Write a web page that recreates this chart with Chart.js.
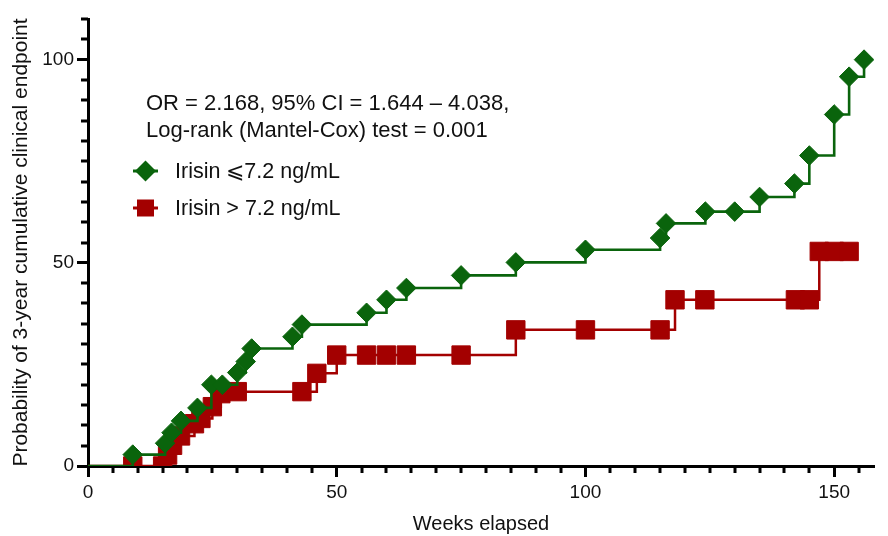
<!DOCTYPE html>
<html>
<head>
<meta charset="utf-8">
<script src="https://cdn.jsdelivr.net/npm/chart.js@4.4.1/dist/chart.umd.min.js"></script>
<style>
  html, body { margin: 0; padding: 0; background: #fff; overflow: hidden; }
  #wrap { width: 888px; height: 536px; position: relative; }
</style>
</head>
<body>
<div id="wrap"><canvas id="chart"></canvas></div>
<script>
// Irisin <= 7.2 ng/mL (weeks, cumulative %)
const lowWeeks = [0, 9, 15.5, 16.8, 18.7, 22, 24.8, 27, 30, 31.7, 32.9, 41.1, 43, 56, 60, 64, 75, 86, 100, 115, 116.2, 124.1, 130, 135, 142, 145, 150, 153, 156];
const lowPct   = [0, 2.8, 5.6, 8.2, 11.1, 14.3, 20.0, 20.0, 23.0, 25.7, 28.9, 31.8, 34.8, 37.7, 40.9, 43.8, 46.9, 50.1, 53.2, 56.1, 59.7, 62.6, 62.6, 66.2, 69.5, 76.4, 86.5, 95.8, 100];

// Irisin > 7.2 ng/mL
const highWeeks = [0, 9, 15, 16, 17, 18.6, 21.4, 22.7, 25, 26.7, 30, 43, 46, 50, 56, 60, 64, 75, 86, 100, 115, 118, 124, 142.2, 145, 147, 150, 153];
const highPct   = [0, 0, 0, 2.7, 5.1, 7.4, 10.4, 11.7, 14.6, 17.8, 18.3, 18.3, 22.8, 27.3, 27.3, 27.3, 27.3, 27.3, 33.5, 33.5, 33.5, 40.9, 40.9, 40.9, 40.9, 52.8, 52.8, 52.8];

const labels = ["Irisin \u2A7D7.2 ng/mL", "Irisin > 7.2 ng/mL"];
const noteLines = ["OR = 2.168, 95% CI = 1.644 \u2013 4.038,", "Log-rank (Mantel-Cox) test = 0.001"];

const GREEN = "#0a640c";
const RED = "#a30000";
const FONT = "'Liberation Sans', Arial, sans-serif";

function toPoints(xs, ys){
  return xs.map((x, i) => ({x: x, y: ys[i]}));
}

// short minor ticks every 5 units, long ones drawn by chart.js at multiples of 50
const minorTicks = {
  id: "minorTicks",
  afterDraw(chart){
    const ctx = chart.ctx;
    const xs = chart.scales.x, ys = chart.scales.y;
    const area = chart.chartArea;
    ctx.save();
    ctx.strokeStyle = "#000";
    ctx.lineWidth = 3;
    ctx.beginPath();
    for(let v = 5; v <= xs.max; v += 5){
      if(v % 50 === 0) continue;
      const px = Math.round(xs.getPixelForValue(v));
      ctx.moveTo(px, area.bottom);
      ctx.lineTo(px, area.bottom + 7);
    }
    for(let v = 5; v <= ys.max; v += 5){
      if(v % 50 === 0) continue;
      const py = Math.round(ys.getPixelForValue(v));
      ctx.moveTo(area.left, py);
      ctx.lineTo(area.left - 7, py);
    }
    ctx.stroke();
    ctx.restore();
  }
};

// GraphPad-like note and legend inside the plot
const notes = {
  id: "notes",
  afterDraw(chart){
    const ctx = chart.ctx;
    ctx.save();
    ctx.fillStyle = "#111";
    ctx.textBaseline = "alphabetic";
    ctx.font = "22px " + FONT;
    ctx.fillText(noteLines[0], 146, 110);
    ctx.fillText(noteLines[1], 146, 137);

    // legend entries
    const rows = [{y: 171, c: GREEN, s: "diamond"}, {y: 208, c: RED, s: "square"}];
    rows.forEach((r, i) => {
      ctx.strokeStyle = r.c;
      ctx.fillStyle = r.c;
      ctx.lineWidth = 3;
      ctx.beginPath();
      ctx.moveTo(133, r.y);
      ctx.lineTo(158, r.y);
      ctx.stroke();
      ctx.beginPath();
      if(r.s === "diamond"){
        ctx.moveTo(145.5 - 10.5, r.y);
        ctx.lineTo(145.5, r.y - 10.5);
        ctx.lineTo(145.5 + 10.5, r.y);
        ctx.lineTo(145.5, r.y + 10.5);
        ctx.closePath();
      } else {
        ctx.rect(145.5 - 8.5, r.y - 8.5, 17, 17);
      }
      ctx.fill();
      ctx.fillStyle = "#111";
      ctx.font = "21.5px " + FONT;
      ctx.fillText(labels[i], 175, r.y + 7);
    });
    ctx.restore();
  }
};

const axisFont = {family: FONT, size: 19};

chart = new Chart(document.getElementById("chart"), {
  type: "line",
  data: {
    datasets: [{
      label: labels[0],
      data: toPoints(lowWeeks, lowPct),
      stepped: true,
      borderColor: GREEN,
      backgroundColor: GREEN,
      borderWidth: 2.6,
      pointStyle: "rectRot",
      pointRadius: c => c.dataIndex === 0 ? 0 : 9.8,
      pointBorderWidth: 1,
      pointBackgroundColor: GREEN,
      pointBorderColor: GREEN
    }, {
      label: labels[1],
      data: toPoints(highWeeks, highPct),
      stepped: true,
      borderColor: RED,
      backgroundColor: RED,
      borderWidth: 2.5,
      pointStyle: "rect",
      pointRadius: c => c.dataIndex === 0 ? 0 : 13,
      pointBorderWidth: 1,
      pointBackgroundColor: RED,
      pointBorderColor: RED
    }]
  },
  options: {
    responsive: true,
    maintainAspectRatio: false,
    devicePixelRatio: 1,
    animation: false,
    layout: {padding: {left: 0, right: 2, top: 19, bottom: 0}},
    plugins: {legend: {display: false}, tooltip: {enabled: false}},
    scales: {
      x: {
        type: "linear",
        min: 0, max: 158,
        afterFit: s => { s.height = 70; },
        border: {display: true, width: 3, color: "#000"},
        grid: {
          drawOnChartArea: false,
          drawTicks: true,
          tickLength: 11,
          tickWidth: 3,
          tickColor: c => (c.tick && c.tick.value % 50 === 0) ? "#000" : "rgba(0,0,0,0)"
        },
        ticks: {
          stepSize: 5,
          autoSkip: false,
          includeBounds: false,
          maxRotation: 0,
          padding: 4,
          color: "#111",
          font: axisFont,
          callback: v => v % 50 === 0 ? String(v) : ""
        },
        title: {display: true, text: "Weeks elapsed", color: "#111", font: {family: FONT, size: 20}, padding: {top: 0, bottom: 0}}
      },
      y: {
        type: "linear",
        min: 0, max: 110,
        afterFit: s => { s.width = 88; },
        border: {display: true, width: 3, color: "#000"},
        grid: {
          drawOnChartArea: false,
          drawTicks: true,
          tickLength: 11,
          tickWidth: 3,
          tickColor: c => (c.tick && c.tick.value % 50 === 0) ? "#000" : "rgba(0,0,0,0)"
        },
        ticks: {
          stepSize: 5,
          autoSkip: false,
          padding: 3,
          color: "#111",
          font: axisFont,
          callback: v => v % 50 === 0 ? String(v) : ""
        },
        title: {display: true, text: "Probability of 3-year cumulative clinical endpoint", color: "#111", font: {family: FONT, size: 21}, padding: {top: 9, bottom: 0}}
      }
    }
  },
  plugins: [minorTicks, notes]
});
</script>
</body>
</html>
